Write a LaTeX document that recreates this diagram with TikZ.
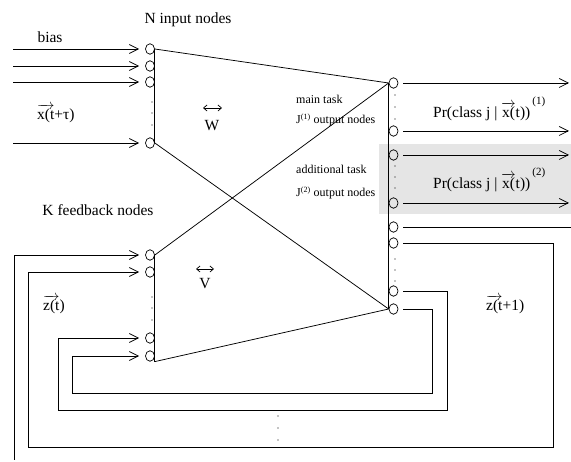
\documentclass[tikz,border=0pt]{standalone}
\usepackage{amsmath}
\usepackage{fontspec}
\setmainfont{Liberation Serif}
\usetikzlibrary{arrows.meta,shapes.geometric}
\newcommand{\vx}[1]{$\overrightarrow{\hbox{#1}}$}
\begin{document}
\begin{tikzpicture}[x=1pt,y=-1pt,
  neuron/.style={draw, ellipse, minimum width=9pt, minimum height=10.5pt, inner sep=0pt, line width=0.7pt},
  wire/.style={line width=0.75pt},
  feed/.style={wire, -{Straight Barb[length=9pt,width=9pt,line width=0.75pt]}, shorten >=6pt},
  outarr/.style={wire, -{Straight Barb[length=9pt,width=9pt,line width=0.75pt]}, shorten <=5pt},
  dbl/.style={line width=0.7pt, {Straight Barb[length=3.5pt,width=6pt,line width=0.7pt]}-{Straight Barb[length=3.5pt,width=6pt,line width=0.7pt]}},
  big/.style={font=\fontsize{15.5}{18}\selectfont, inner sep=0pt},
  small/.style={font=\fontsize{12}{14}\selectfont, inner sep=0pt},
  dotm/.style={fill, circle, inner sep=0pt, minimum size=1.4pt}]
\useasboundingbox (0,0) rectangle (571,462);
% gray band
\fill[black!10] (379,144) rectangle (571,214);
% input nodes
\node[neuron] (i1) at (150,49) {};
\node[neuron] (i2) at (150,66) {};
\node[neuron] (i3) at (150,82) {};
\node[neuron] (i4) at (150,143) {};
% feedback nodes
\node[neuron] (f1) at (150,255) {};
\node[neuron] (f2) at (150,272) {};
\node[neuron] (f3) at (150,338) {};
\node[neuron] (f4) at (150,356) {};
% output nodes
\node[neuron] (o1) at (393.5,83) {};
\node[neuron] (o2) at (393.5,131) {};
\node[neuron] (o3) at (393.5,155) {};
\node[neuron] (o4) at (393.5,203) {};
\node[neuron] (o5) at (393.5,227) {};
\node[neuron] (o6) at (393.5,243) {};
\node[neuron] (o7) at (393.5,291) {};
\node[neuron] (o8) at (393.5,309) {};
% column lines
\draw[wire] (i1.east) -- (i4.east);
\draw[wire] (f1.east) -- (f4.east |- f4.south);
\draw[wire] (o1.west) -- (o8.west);
% weights
\draw[wire] (i1.east) -- (o1.west);
\draw[wire] (i4.east) -- (o8.west);
\draw[wire] (f1.east) -- (o1.west);
\draw[wire] (f4.east |- f4.south) -- (o8.west);
% dots
\foreach \y in {102,113,125} \node[dotm] at (152,\y) {};
\foreach \y in {297,308,320} \node[dotm] at (152,\y) {};
\foreach \y in {95,107,119} \node[dotm] at (395,\y) {};
\foreach \y in {166,177,188} \node[dotm] at (395,\y) {};
\foreach \y in {259,270,281} \node[dotm] at (395,\y) {};
\foreach \y in {416,428,440} \node[dotm] at (278,\y) {};
% input arrows
\coordinate (inl) at (13,0);
\draw[feed] (inl |- i1) -- (i1.west);
\draw[feed] (inl |- i2) -- (i2.west);
\draw[feed] (inl |- i3) -- (i3.west);
\draw[feed] (inl |- i4) -- (i4.west);
% output arrows
\coordinate (outr) at (569,0);
\coordinate (edge) at (571,0);
\draw[outarr] (o1.east) -- (o1 -| outr);
\draw[outarr] (o2.east) -- (o2 -| outr);
\draw[outarr] (o3.east) -- (o3 -| outr);
\draw[outarr] (o4.east) -- (o4 -| outr);
\draw[wire, shorten <=5pt] (o5.east) -- (o5 -| edge);
% feedback loops
\coordinate (r6) at (553,447);
\coordinate (l6) at (28,447);
\coordinate (r7) at (447,410);
\coordinate (l7) at (58,410);
\coordinate (r8) at (432,393);
\coordinate (l8) at (72,393);
\coordinate (w1) at (14,460);
\draw[feed, shorten <=5pt] (o6.east) -- (o6 -| r6) -- (r6) -- (l6) -- (l6 |- f2) -- (f2.west);
\draw[feed, shorten <=5pt] (o7.east) -- (o7 -| r7) -- (r7) -- (l7) -- (l7 |- f3) -- (f3.west);
\draw[feed, shorten <=5pt] (o8.east) -- (o8 -| r8) -- (r8) -- (l8) -- (l8 |- f4) -- (f4.west);
\draw[feed] (w1) -- (w1 |- f1) -- (f1.west);
% labels
\node[big] (tN) at (188,20) {N input nodes};
\node[big] (tbias) at (50,37) {bias};
\node[big, anchor=base west] (tx) at (37,120) {\vx{x(t}+τ)};
\node[big, anchor=base] (tW) at (212,131) {W};
\coordinate (wa) at (203,108);
\coordinate (wb) at (222,108);
\draw[dbl] (wa) -- (wb);
\node[big] (tK) at (98,210) {K feedback nodes};
\node[big, anchor=base] (tV) at (205,289) {V};
\coordinate (va) at (196,269);
\coordinate (vb) at (214,269);
\draw[dbl] (va) -- (vb);
\node[big, anchor=base west] (tz) at (43,311) {\vx{z(t})};
\node[big, anchor=base west] (tz1) at (486,311) {\vx{z(t}+1)};
\node[small, anchor=west] (tm) at (296,99) {main task};
\node[small, anchor=west] (tj1) at (296,120) {J\textsuperscript{(1)} output nodes};
\node[small, anchor=west] (ta) at (296,169) {additional task};
\node[small, anchor=west] (tj2) at (296,193) {J\textsuperscript{(2)} output nodes};
\node[big, anchor=base west] (pr1) at (433,118) {Pr(class j | \vx{x(}t))\kern2pt\raisebox{13pt}{\fontsize{11}{11}\selectfont(1)}};
\node[big, anchor=base west] (pr2) at (433,189) {Pr(class j | \vx{x(}t))\kern2pt\raisebox{13pt}{\fontsize{11}{11}\selectfont(2)}};
\end{tikzpicture}
\end{document}
